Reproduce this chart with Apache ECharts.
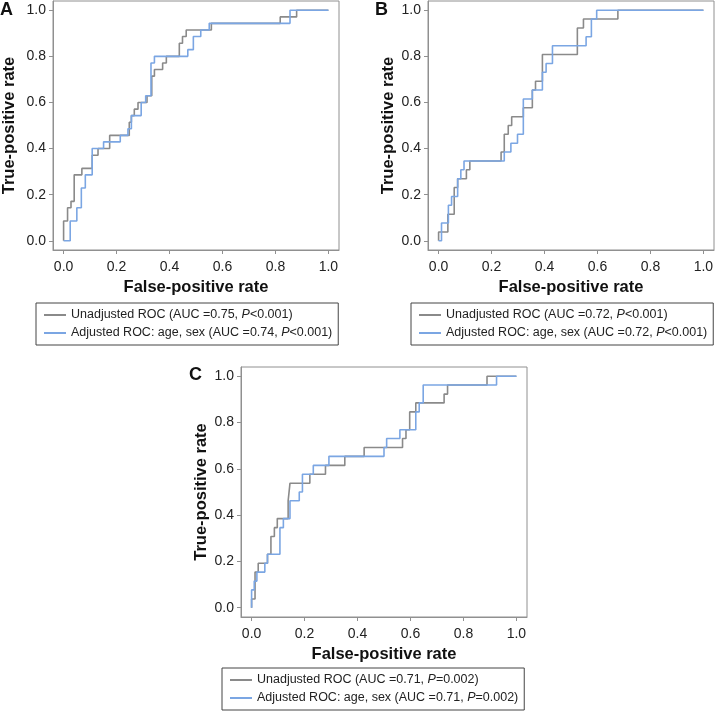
<!DOCTYPE html>
<html>
<head>
<meta charset="utf-8">
<script src="https://cdn.jsdelivr.net/npm/echarts@6/dist/echarts.min.js"></script>
<style>
html,body{margin:0;padding:0;background:#fff;}
#chart{width:726px;height:712px;}
</style>
</head>
<body>
<div id="chart"></div>
<script>
// ---- data: each step = at FPR f the TPR rises to t ----
const tickValues = [0, 0.2, 0.4, 0.6, 0.8, 1.0];

const A_unadj_fpr = [0.0, 0.015, 0.028, 0.040, 0.069, 0.108, 0.130, 0.174, 0.248, 0.256, 0.267, 0.281, 0.315, 0.333, 0.343, 0.374, 0.388, 0.437, 0.449, 0.463, 0.558, 0.818, 0.880];
const A_unadj_tpr = [0.086, 0.143, 0.171, 0.286, 0.314, 0.371, 0.400, 0.457, 0.514, 0.543, 0.571, 0.600, 0.629, 0.714, 0.743, 0.771, 0.800, 0.857, 0.886, 0.914, 0.943, 0.971, 1.0];
const A_adj_fpr = [0.025, 0.050, 0.067, 0.082, 0.108, 0.151, 0.214, 0.243, 0.256, 0.293, 0.310, 0.330, 0.343, 0.469, 0.490, 0.518, 0.550, 0.855];
const A_adj_tpr = [0.086, 0.143, 0.229, 0.286, 0.400, 0.429, 0.457, 0.486, 0.543, 0.600, 0.629, 0.771, 0.800, 0.829, 0.886, 0.914, 0.943, 1.0];

const B_unadj_fpr = [0.0, 0.035, 0.059, 0.072, 0.105, 0.118, 0.236, 0.248, 0.263, 0.276, 0.320, 0.354, 0.366, 0.392, 0.524, 0.547, 0.677];
const B_unadj_tpr = [0.038, 0.115, 0.231, 0.269, 0.308, 0.346, 0.385, 0.462, 0.500, 0.538, 0.577, 0.654, 0.692, 0.808, 0.923, 0.962, 1.0];
const B_adj_fpr = [0.011, 0.037, 0.049, 0.072, 0.084, 0.096, 0.248, 0.273, 0.298, 0.320, 0.354, 0.392, 0.406, 0.430, 0.557, 0.577, 0.597];
const B_adj_tpr = [0.077, 0.154, 0.192, 0.269, 0.308, 0.346, 0.385, 0.423, 0.462, 0.615, 0.654, 0.731, 0.769, 0.846, 0.885, 0.962, 1.0];

const C_unadj_fpr = [0.0, 0.013, 0.025, 0.060, 0.073, 0.086, 0.097, 0.138, 0.145, 0.220, 0.279, 0.352, 0.425, 0.570, 0.583, 0.597, 0.620, 0.727, 0.740, 0.889];
const C_unadj_tpr = [0.038, 0.154, 0.192, 0.231, 0.308, 0.346, 0.385, 0.462, 0.538, 0.577, 0.615, 0.654, 0.692, 0.731, 0.769, 0.846, 0.885, 0.923, 0.962, 1.0];
const C_adj_fpr = [0.0, 0.010, 0.020, 0.050, 0.060, 0.107, 0.120, 0.145, 0.180, 0.192, 0.233, 0.292, 0.500, 0.510, 0.560, 0.620, 0.633, 0.648, 0.925];
const C_adj_tpr = [0.077, 0.115, 0.154, 0.192, 0.231, 0.346, 0.385, 0.462, 0.500, 0.577, 0.615, 0.654, 0.692, 0.731, 0.769, 0.846, 0.885, 0.962, 1.0];

const panelLetters = ['A', 'B', 'C'];
const unadjNames = ['Unadjusted ROC (AUC =0.75, P<0.001)', 'Unadjusted ROC (AUC =0.72, P<0.001)', 'Unadjusted ROC (AUC =0.71, P=0.002)'];
const adjNames = ['Adjusted ROC: age, sex (AUC =0.74, P<0.001)', 'Adjusted ROC: age, sex (AUC =0.72, P<0.001)', 'Adjusted ROC: age, sex (AUC =0.71, P=0.002)'];
const xTitle = 'False-positive rate';
const yTitle = 'True-positive rate';

// ---- build ----
const FONT = "'Liberation Sans', Arial, sans-serif";
const GREY = '#8a8a8a';
const BLUE = '#7ba6e3';
const FRAME = '#909090';

function stepVerts(fs, ts) {
  const pts = [[0, 0]];
  let prev = 0;
  for (let i = 0; i < fs.length; i++) {
    pts.push([fs[i], prev]);
    pts.push([fs[i], ts[i]]);
    prev = ts[i];
  }
  pts.push([1, prev]);
  return pts;
}

const curves = [
  [A_unadj_fpr, A_unadj_tpr, A_adj_fpr, A_adj_tpr],
  [B_unadj_fpr, B_unadj_tpr, B_adj_fpr, B_adj_tpr],
  [C_unadj_fpr, C_unadj_tpr, C_adj_fpr, C_adj_tpr]
];

const grids = [
  {left: 53, top: 1, width: 286, height: 249},
  {left: 428, top: 1, width: 286, height: 249},
  {left: 241, top: 367, width: 286, height: 250}
];
const yNameGaps = [35, 31, 31];
const letterPos = [[0, 1], [375, 1], [189, 366]];
const legendPos = [[36, 303], [411, 303], [222, 668]];

function axisCommon(nameGap, isX) {
  return {
    type: 'value', min: -0.04, max: 1.04,
    name: isX ? xTitle : yTitle,
    nameLocation: 'middle', nameGap: nameGap,
    nameTextStyle: {fontFamily: FONT, fontSize: 16.5, fontWeight: 'bold', color: '#111'},
    axisLine: {show: true, onZero: false, lineStyle: {color: FRAME, width: 1}},
    axisTick: {show: true, length: 4, customValues: tickValues, lineStyle: {color: FRAME}},
    axisLabel: {customValues: tickValues, margin: isX ? 10 : 7, fontFamily: FONT, fontSize: 14, color: '#222',
      formatter: v => Number(v).toFixed(1)},
    splitLine: {show: false}
  };
}

const option = {
  animation: false,
  backgroundColor: '#fff',
  title: panelLetters.map((l, i) => ({
    text: l, left: letterPos[i][0], top: letterPos[i][1], padding: 0,
    textStyle: {fontFamily: FONT, fontSize: 18, fontWeight: 'bold', color: '#111'}
  })),
  grid: grids.map(g => Object.assign({show: true, borderColor: FRAME, borderWidth: 1, containLabel: false}, g)),
  xAxis: grids.map((g, i) => Object.assign(axisCommon(29, true), {gridIndex: i})),
  yAxis: grids.map((g, i) => Object.assign(axisCommon(yNameGaps[i], false), {gridIndex: i})),
  legend: panelLetters.map((l, i) => ({
    orient: 'vertical', left: legendPos[i][0], top: legendPos[i][1],
    padding: [4, 6, 4, 8], itemGap: 2, itemWidth: 22, itemHeight: 2, icon: 'rect',
    borderColor: '#444', borderWidth: 1, selectedMode: false,
    data: [unadjNames[i], adjNames[i]],
    formatter: name => {
      const k = name.indexOf(', P');
      return '{n|' + name.slice(0, k + 2) + '}{i|P}{n|' + name.slice(k + 3) + '}';
    },
    textStyle: {fontFamily: FONT, fontSize: 12.5, color: '#222', lineHeight: 16, height: 16,
      rich: {n: {fontFamily: FONT, fontSize: 12.5, color: '#222', lineHeight: 16, height: 16},
             i: {fontFamily: FONT, fontSize: 12.5, color: '#222', fontStyle: 'italic', lineHeight: 16, height: 16}}}
  })),
  series: []
};

curves.forEach((c, i) => {
  option.series.push({
    type: 'line', name: unadjNames[i], xAxisIndex: i, yAxisIndex: i,
    data: stepVerts(c[0], c[1]), symbol: 'none', showSymbol: false,
    itemStyle: {color: GREY}, lineStyle: {color: GREY, width: 1.6}
  });
  option.series.push({
    type: 'line', name: adjNames[i], xAxisIndex: i, yAxisIndex: i,
    data: stepVerts(c[2], c[3]), symbol: 'none', showSymbol: false,
    itemStyle: {color: BLUE}, lineStyle: {color: BLUE, width: 1.6}
  });
});

const chart = echarts.init(document.getElementById('chart'), null, {renderer: 'canvas'});
chart.setOption(option);
</script>
</body>
</html>
